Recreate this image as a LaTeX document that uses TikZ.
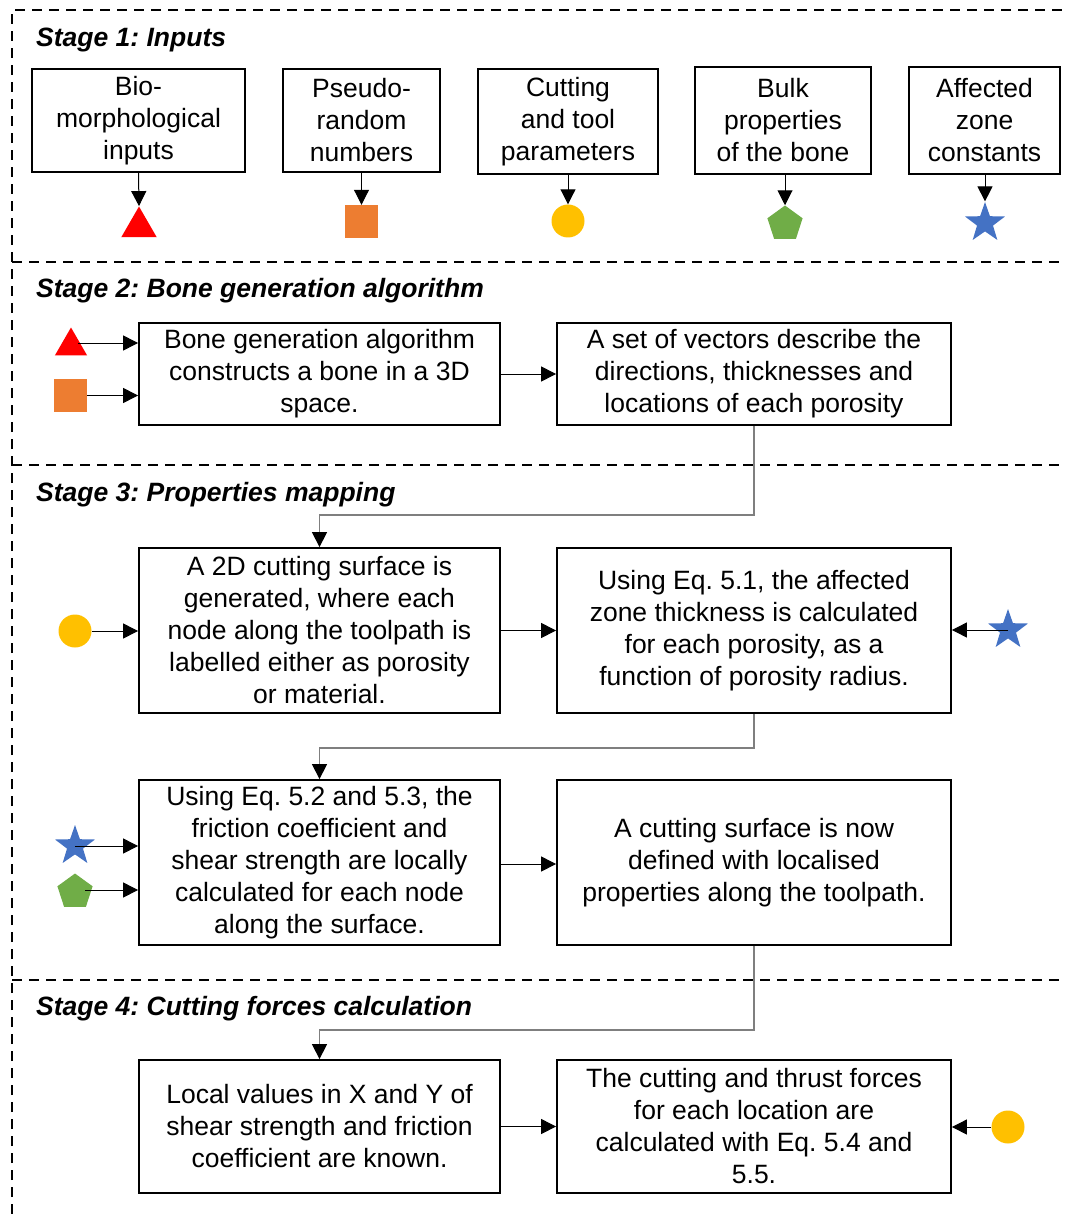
\documentclass[tikz,border=0pt]{standalone}
\usepackage{fontspec}
\setmainfont{Liberation Sans}
\frenchspacing
\usetikzlibrary{arrows.meta,shapes.geometric}
\definecolor{cRed}{HTML}{FF0000}
\definecolor{cOrange}{HTML}{ED7D31}
\definecolor{cYellow}{HTML}{FFC000}
\definecolor{cGreen}{HTML}{70AD47}
\definecolor{cBlue}{HTML}{4472C4}
\definecolor{cGrey}{HTML}{7F7F7F}
\begin{document}
\begin{tikzpicture}[x=1pt,y=-1pt,
  box/.style={draw,line width=1.8pt,align=center,inner sep=0pt,
    font=\fontsize{26.5}{32}\selectfont,
    execute at begin node={\rule{0pt}{24pt}}},
  stagetitle/.style={anchor=west,inner sep=0pt,
    font=\fontsize{26.5}{30}\selectfont\bfseries\itshape},
  frame/.style={line width=1.8pt,dash pattern=on 10pt off 7pt},
  arr/.style={line width=1pt,-{Triangle[length=15pt,width=15pt]}},
  elbow/.style={draw=cGrey,line width=1.3pt,
    -{Triangle[length=15pt,width=15pt,color=black]}},
  tri/.style={regular polygon,regular polygon sides=3,fill=cRed,inner sep=0pt,minimum size=#1},
  sq/.style={rectangle,fill=cOrange,inner sep=0pt,minimum size=33pt},
  circ/.style={circle,fill=cYellow,inner sep=0pt,minimum size=33pt},
  pent/.style={regular polygon,regular polygon sides=5,fill=cGreen,inner sep=0pt,minimum size=37pt},
  starshape/.style={star,star points=5,star point ratio=2.5,fill=cBlue,inner sep=0pt,minimum size=42pt},
]
\useasboundingbox (0,0) rectangle (1066,1214);

% dashed stage frames
\draw[frame] (12,1214) -- (12,10) -- (1066,10);
\draw[frame] (12,262) -- (1066,262);
\draw[frame] (12,465) -- (1066,465);
\draw[frame] (12,980) -- (1066,980);

% stage titles
\node[stagetitle] (s1) at (36,40) {Stage 1: Inputs};
\node[stagetitle] (s2) at (36,291) {Stage 2: Bone generation algorithm};
\node[stagetitle] (s3) at (36,495) {Stage 3: Properties mapping};
\node[stagetitle] (s4) at (36,1009) {Stage 4: Cutting forces calculation};

% stage 1: inputs and their symbols
\node[box,minimum width=213pt,minimum height=103pt] (in1) at (138.5,120.5) {Bio-\\morphological\\inputs};
\node[box,minimum width=157pt,minimum height=103pt] (in2) at (361.5,120.5) {Pseudo-\\random\\numbers};
\node[box,minimum width=180pt,minimum height=105pt] (in3) at (568,121.5) {Cutting\\and tool\\parameters};
\node[box,minimum width=176pt,minimum height=107pt] (in4) at (783,120.5) {Bulk\\properties\\of the bone};
\node[box,minimum width=151pt,minimum height=107pt] (in5) at (984.5,120.5) {Affected\\zone\\constants};

\node[tri=41pt] (sym1) at (139,227) {};
\node[sq] (sym2) at (361.5,221.5) {};
\node[circ] (sym3) at (568,221) {};
\node[pent] (sym4) at (785,224) {};
\node[starshape] (sym5) at (985,223) {};

\draw[arr] (in1.south) -- (sym1.north);
\draw[arr] (in2.south) -- (sym2.north);
\draw[arr] (in3.south) -- (sym3.north);
\draw[arr] (in4.south -| sym4.north) -- (sym4.north);
\draw[arr] (in5.south -| sym5.north) -- (sym5.north);

% stage 2: bone generation
\node[box,minimum width=361pt,minimum height=102pt] (gen) at (319.5,374) {Bone generation algorithm\\constructs a bone in a 3D\\space.};
\node[box,minimum width=394pt,minimum height=102pt] (vec) at (754,374) {A set of vectors describe the\\directions, thicknesses and\\locations of each porosity};
\node[tri=37pt] (g1) at (71,346) {};
\node[sq] (g2) at (70.5,395.5) {};
\coordinate (g1s) at (78,343);
\draw[arr] (g1s) -- (gen.west |- g1s);
\draw[arr] (g2) -- (gen.west |- g2);
\draw[arr] (gen) -- (vec);

% stage 3: properties mapping
\node[box,minimum width=361pt,minimum height=165pt] (surf) at (319.5,630.5) {A 2D cutting surface is\\generated, where each\\node along the toolpath is\\labelled either as porosity\\or material.};
\node[box,minimum width=394pt,minimum height=165pt] (zone) at (754,630.5) {Using Eq. 5.1, the affected\\zone thickness is calculated\\for each porosity, as a\\function of porosity radius.};
\node[box,minimum width=361pt,minimum height=165pt] (fric) at (319.5,862.5) {Using Eq. 5.2 and 5.3, the\\friction coefficient and\\shear strength are locally\\calculated for each node\\along the surface.};
\node[box,minimum width=394pt,minimum height=165pt] (loc) at (754,862.5) {A cutting surface is now\\defined with localised\\properties along the toolpath.};

\node[circ] (p1) at (75,631) {};
\node[starshape] (p2) at (1008,630) {};
\node[starshape] (p3) at (75,846) {};
\node[pent] (p4) at (75,892) {};

\coordinate (k1) at (0,515);
\coordinate (k2) at (0,748);
\coordinate (k3) at (0,1030);
\draw[elbow] (vec.south) -- (vec.south |- k1) -| (surf.north);
\draw[arr] (p1) -- (surf.west |- p1);
\draw[arr] (surf) -- (zone);
\draw[arr] (p2.center) -- (zone.east |- p2.center);
\draw[elbow] (zone.south) -- (zone.south |- k2) -| (fric.north);
\draw[arr] (p3.center) -- (fric.west |- p3.center);
\coordinate (p4s) at (85,890);
\draw[arr] (p4s) -- (fric.west |- p4s);
\coordinate (ef) at (0,864);
\draw[arr] (fric.east |- ef) -- (loc.west |- ef);

% stage 4: cutting forces
\node[box,minimum width=361pt,minimum height=133pt] (vals) at (319.5,1126.5) {Local values in X and Y of\\shear strength and friction\\coefficient are known.};
\node[box,minimum width=394pt,minimum height=133pt] (force) at (754,1126.5) {The cutting and thrust forces\\for each location are\\calculated with Eq. 5.4 and\\5.5.};
\node[circ] (f1) at (1008,1127) {};

\draw[elbow] (loc.south) -- (loc.south |- k3) -| (vals.north);
\draw[arr] (vals) -- (force);
\draw[arr] (f1) -- (force.east |- f1);
\end{tikzpicture}
\end{document}
